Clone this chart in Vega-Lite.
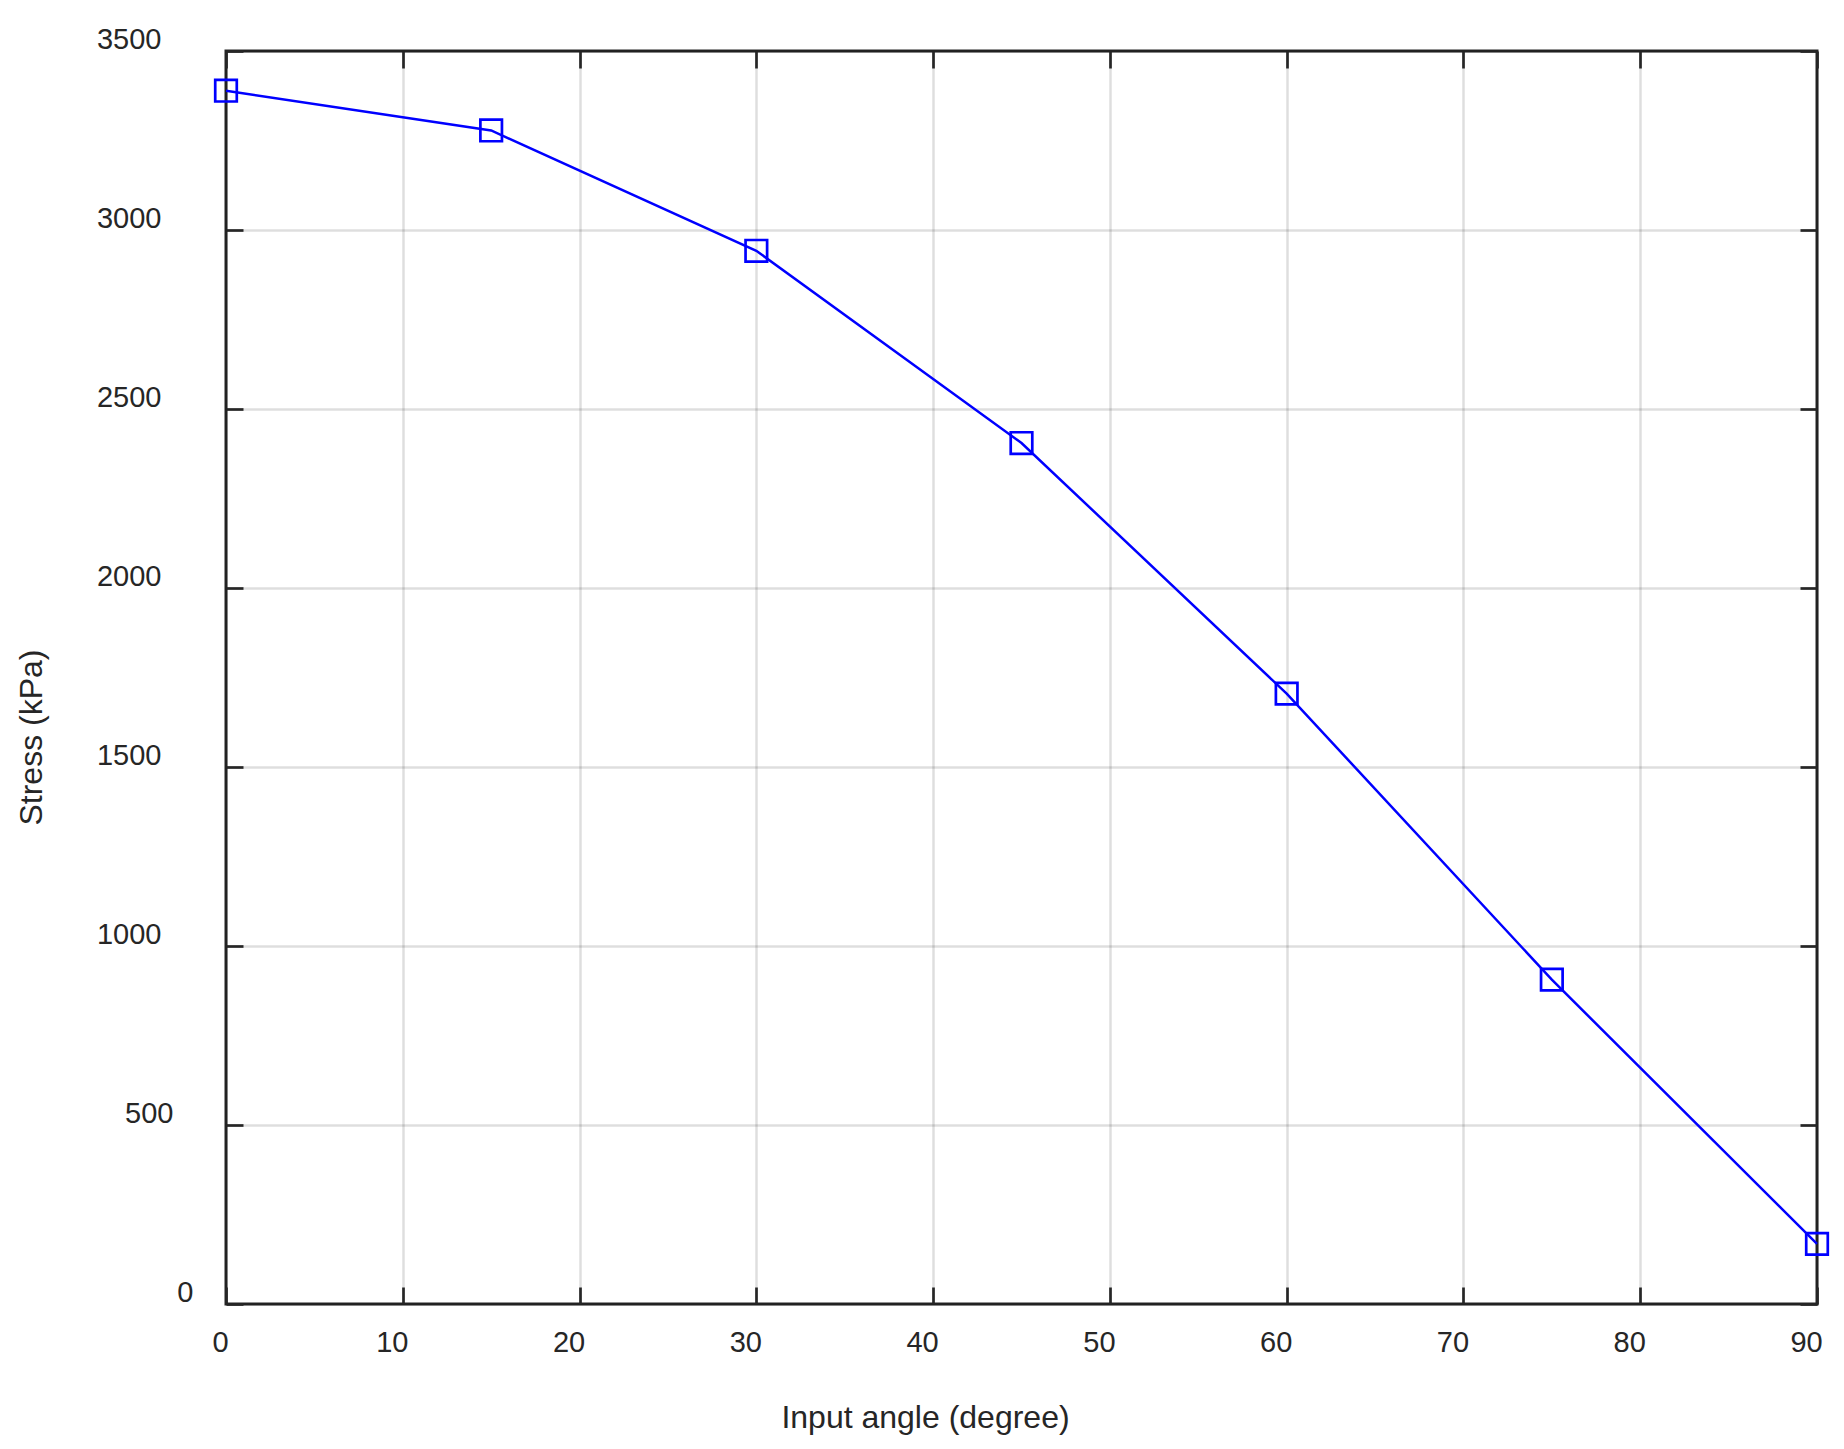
{
  "$schema": "https://vega.github.io/schema/vega-lite/v6.json",
  "autosize": "none",
  "padding": {"left": 226, "top": 51, "right": 27, "bottom": 145},
  "width": 1591,
  "height": 1253,
  "background": "white",
  "config": {
    "view": {"stroke": "#262626", "strokeWidth": 3},
    "font": "Liberation Sans"
  },
  "data": {
    "values": [
      {"angle": 0, "stress": 3389},
      {"angle": 15, "stress": 3278},
      {"angle": 30, "stress": 2942},
      {"angle": 45, "stress": 2405},
      {"angle": 60, "stress": 1705},
      {"angle": 75, "stress": 906},
      {"angle": 90, "stress": 168}
    ]
  },
  "layer": [
    {
      "mark": {"type": "line", "color": "#0000ff", "strokeWidth": 2.5},
      "encoding": {
        "x": {
          "field": "angle", "type": "quantitative",
          "scale": {"domain": [0, 90], "nice": false, "zero": false},
          "axis": {
            "orient": "bottom",
            "values": [0, 10, 20, 30, 40, 50, 60, 70, 80, 90],
            "format": "d",
            "title": "Input angle (degree)",
            "domain": false,
            "grid": true, "gridColor": "#000000", "gridOpacity": 0.13, "gridWidth": 2.5,
            "ticks": true, "tickSize": -17, "tickWidth": 2.7, "tickColor": "#262626",
            "labelFontSize": 29, "labelColor": "#262626", "labelBaseline": "top", "labelAlign": "center",
            "labelPadding": 41,
            "labelOffset": {"condition": {"test": "datum.value == 0", "value": -6}, "value": -11},
            "labelFlush": false, "labelOverlap": false, "labelBound": false,
            "titleFontSize": 32, "titleFontWeight": "normal", "titleColor": "#262626",
            "titleX": 699, "titleY": 123, "titleBaseline": "alphabetic", "titleAlign": "center"
          }
        },
        "y": {
          "field": "stress", "type": "quantitative",
          "scale": {"domain": [0, 3500], "nice": false},
          "axis": {
            "orient": "left",
            "values": [0, 500, 1000, 1500, 2000, 2500, 3000, 3500],
            "format": "d",
            "title": "Stress (kPa)",
            "domain": false,
            "grid": true, "gridColor": "#000000", "gridOpacity": 0.13, "gridWidth": 2.5,
            "ticks": true, "tickSize": -17, "tickWidth": 2.7, "tickColor": "#262626",
            "labelFontSize": 29, "labelColor": "#262626", "labelBaseline": "middle", "labelAlign": "right",
            "labelOffset": -12,
            "labelPadding": {"condition": [{"test": "datum.value == 0", "value": 50}, {"test": "datum.value == 500", "value": 70}], "value": 82},
            "labelFlush": false, "labelOverlap": false, "labelBound": false,
            "titleFontSize": 32, "titleFontWeight": "normal", "titleColor": "#262626",
            "titleAngle": 270, "titleX": -185, "titleY": 686, "titleBaseline": "alphabetic", "titleAlign": "center"
          }
        }
      }
    },
    {
      "mark": {"type": "point", "shape": "square", "filled": false, "color": "#0000ff", "size": 465, "strokeWidth": 2.7, "opacity": 1},
      "encoding": {
        "x": {"field": "angle", "type": "quantitative", "scale": {"domain": [0, 90], "nice": false, "zero": false}, "axis": null},
        "y": {"field": "stress", "type": "quantitative", "scale": {"domain": [0, 3500], "nice": false}, "axis": null}
      }
    },
    {
      "mark": {"type": "point", "opacity": 0},
      "encoding": {
        "x": {
          "field": "angle", "type": "quantitative",
          "scale": {"domain": [0, 90], "nice": false, "zero": false},
          "axis": {"orient": "top", "values": [0, 10, 20, 30, 40, 50, 60, 70, 80, 90], "labels": false, "title": null, "domain": false, "grid": false, "tickSize": -17, "tickWidth": 2.7, "tickColor": "#262626"}
        },
        "y": {
          "field": "stress", "type": "quantitative",
          "scale": {"domain": [0, 3500], "nice": false},
          "axis": {"orient": "right", "values": [0, 500, 1000, 1500, 2000, 2500, 3000, 3500], "labels": false, "title": null, "domain": false, "grid": false, "tickSize": -17, "tickWidth": 2.7, "tickColor": "#262626"}
        }
      }
    }
  ],
  "resolve": {"axis": {"x": "independent", "y": "independent"}}
}
